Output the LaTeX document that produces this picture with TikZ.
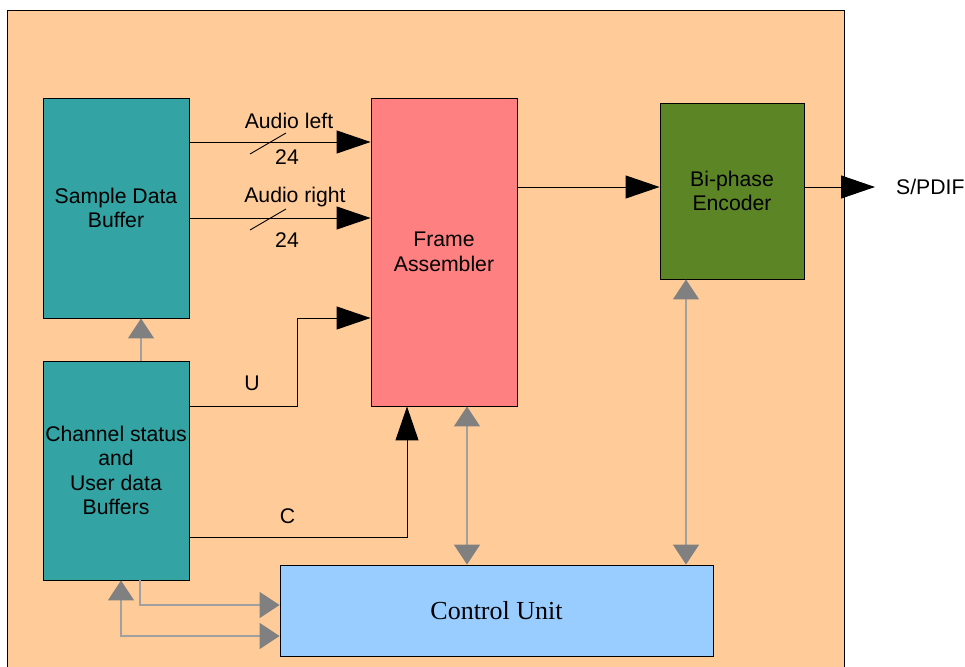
\documentclass[tikz,border=0pt]{standalone}
\usepackage{fontspec}
\setmainfont{Liberation Sans}
\newfontfamily\cufont{Liberation Serif}
\usetikzlibrary{arrows.meta}
\definecolor{peach}{RGB}{255,204,153}
\definecolor{tealbox}{RGB}{51,163,163}
\definecolor{pinkbox}{RGB}{255,128,128}
\definecolor{greenbox}{RGB}{92,133,38}
\definecolor{bluebox}{RGB}{153,204,255}
\definecolor{grline}{RGB}{160,160,160}
\definecolor{grtip}{RGB}{128,128,128}
\tikzset{
  blockbox/.style={draw=black, line width=0.9pt, align=center, inner sep=0pt,
    font=\fontsize{21.2}{24.6}\selectfont},
  blk/.style={draw=black, line width=1.0pt, -{Triangle[length=34pt,width=23pt]}},
  gry/.style={draw=grline, line width=1.6pt, -{Triangle[length=20pt,width=26pt,color=grtip,fill=grtip]}},
  grytwo/.style={draw=grline, line width=1.6pt, {Triangle[length=20pt,width=26pt,color=grtip,fill=grtip]}-{Triangle[length=20pt,width=26pt,color=grtip,fill=grtip]}},
  lbl/.style={font=\fontsize{21.2}{24.6}\selectfont, inner sep=0pt},
  slashline/.style={draw=black, line width=0.9pt}
}
\begin{document}
\begin{tikzpicture}[x=1pt,y=-1pt]
\useasboundingbox (0,0) rectangle (965,666);
\fill[white] (0,0) rectangle (965,666);
\draw[fill=peach, line width=0.9pt] (7,10) rectangle (844,672);

\node[blockbox, fill=tealbox, minimum width=146pt, minimum height=220pt] (sdb) at (116,208) {Sample Data\\Buffer};
\node[blockbox, fill=tealbox, minimum width=146pt, minimum height=219pt] (ch) at (116,470.5) {Channel status\\and\\User data\\Buffers};
\node[blockbox, fill=pinkbox, minimum width=146pt, minimum height=308pt] (fa) at (444,252) {Frame\\Assembler};
\node[blockbox, fill=greenbox, minimum width=144pt, minimum height=176pt] (enc) at (732,191) {Bi-phase\\Encoder};
\node[blockbox, fill=bluebox, minimum width=433pt, minimum height=91pt, font=\cufont\fontsize{26}{30}\selectfont] (cu) at (496.5,610.5) {Control Unit};

% audio buses
\draw[blk] (sdb.east |- 0,142) -- (fa.west |- 0,142);
\draw[slashline] (250,154) -- (286,133);
\node[lbl] (al) at (289,121) {Audio left};
\node[lbl] (al24) at (287,157.5) {24};
\draw[blk] (sdb.east |- 0,218) -- (fa.west |- 0,218);
\draw[slashline] (250,230) -- (286,209);
\node[lbl] (ar) at (295,197) {Audio right};
\node[lbl] (ar24) at (287,240.5) {24};

% U and C
\draw[blk] (ch.east |- 0,406) -- (297,406) -- (297,318) -- (fa.west |- 0,318);
\node[lbl] (ul) at (252,383.5) {U};
\draw[blk] (ch.east |- 0,537) -| (fa.south -| 407,0);
\node[lbl] (cl) at (287.5,516) {C};

% frame to encoder, encoder out
\draw[blk] (fa.east |- 0,187) -- (enc.west |- 0,187);
\coordinate (out) at (875,187);
\draw[blk] (enc.east |- 0,187) -- (out);
\node[lbl, anchor=west] (spdif) at (896,187) {S/PDIF};

% grey control arrows
\draw[gry] (ch.north -| 141,0) -- (sdb.south -| 141,0);
\draw[grytwo] (fa.south -| 467,0) -- (cu.north -| 467,0);
\draw[grytwo] (enc.south -| 686,0) -- (cu.north -| 686,0);
\draw[gry] (ch.south -| 140,0) |- (cu.west |- 0,605);
\draw[grytwo] (ch.south -| 121,0) |- (cu.west |- 0,636);
\end{tikzpicture}
\end{document}
